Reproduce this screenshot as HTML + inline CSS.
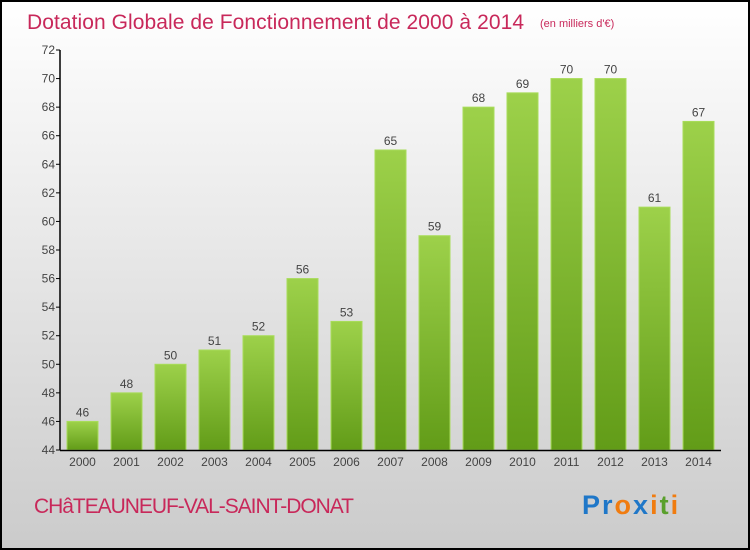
<!DOCTYPE html>
<html><head><meta charset="utf-8"><style>
body{margin:0;width:750px;height:550px;overflow:hidden;}
svg{display:block;font-family:"Liberation Sans",sans-serif;}
</style></head><body>
<svg id="chart" width="750" height="550">
<defs>
<linearGradient id="bg" x1="0" y1="0" x2="0" y2="1"><stop offset="0" stop-color="#ffffff"/><stop offset="1" stop-color="#cbcbcb"/></linearGradient>
<linearGradient id="bar" x1="0" y1="0" x2="0" y2="1"><stop offset="0" stop-color="#9dd14a"/><stop offset="1" stop-color="#629c18"/></linearGradient>
</defs>
<rect x="1" y="1" width="748" height="548" fill="url(#bg)" stroke="#000" stroke-width="2"/>
<text x="27" y="29" font-size="21" fill="#c8285a" textLength="497">Dotation Globale de Fonctionnement de 2000 à 2014</text>
<text x="540" y="27" font-size="11" fill="#c8285a">(en milliers d'€)</text>
<g id="plot"></g>
<text x="34" y="513" font-size="21" fill="#c8285a" textLength="320">CHâTEAUNEUF-VAL-SAINT-DONAT</text>
<text x="582" y="514" font-size="27" font-weight="bold" letter-spacing="2"><tspan fill="#1f77c8">Pr</tspan><tspan fill="#f07c10">o</tspan><tspan fill="#1f77c8">x</tspan><tspan fill="#f07c10">i</tspan><tspan fill="#5aa02c">t</tspan><tspan fill="#f07c10">i</tspan></text>
</svg>
<script>
const categories=["2000","2001","2002","2003","2004","2005","2006","2007","2008","2009","2010","2011","2012","2013","2014"];
const values=[46,48,50,51,52,56,53,65,59,68,69,70,70,61,67];
const yTicks=[44,46,48,50,52,54,56,58,60,62,64,66,68,70,72];
const NS="http://www.w3.org/2000/svg";
const g=document.getElementById('plot');
const yMin=44,yMax=72,plotTop=50,plotBot=450;
const y=v=>plotBot-(v-yMin)/(yMax-yMin)*(plotBot-plotTop);
const x=i=>82.5+i*44;
function mk(t,a){const e=document.createElementNS(NS,t);for(const k in a)e.setAttribute(k,a[k]);g.appendChild(e);return e;}
yTicks.forEach(t=>{
  const l=mk('line',{x1:56,x2:60,y1:y(t),y2:y(t),stroke:'#000'});
  
  
  const tx=mk('text',{x:55,y:y(t)+4,'font-size':12,fill:'#444','text-anchor':'end'});
  tx.textContent=t;
  
  
});
values.forEach((v,i)=>{
  const r=mk('rect',{x:x(i)-15.5,y:y(v),width:31,height:plotBot-y(v),fill:'url(#bar)',stroke:'#a8dc5a','stroke-width':1});
  
  
  const t=mk('text',{x:x(i),y:y(v)-5,'font-size':12,fill:'#444','text-anchor':'middle'});
  t.textContent=v;
  
  
  const c=mk('text',{x:x(i),y:466,'font-size':12,fill:'#444','text-anchor':'middle'});
  c.textContent=categories[i];
  
  
});
const ya=mk('line',{x1:60,x2:60,y1:plotTop,y2:plotBot+0.5,stroke:'#000','stroke-width':1.5});


const xa=mk('line',{x1:60,x2:721,y1:plotBot+0.5,y2:plotBot+0.5,stroke:'#000','stroke-width':1.5});


</script>
</body></html>
